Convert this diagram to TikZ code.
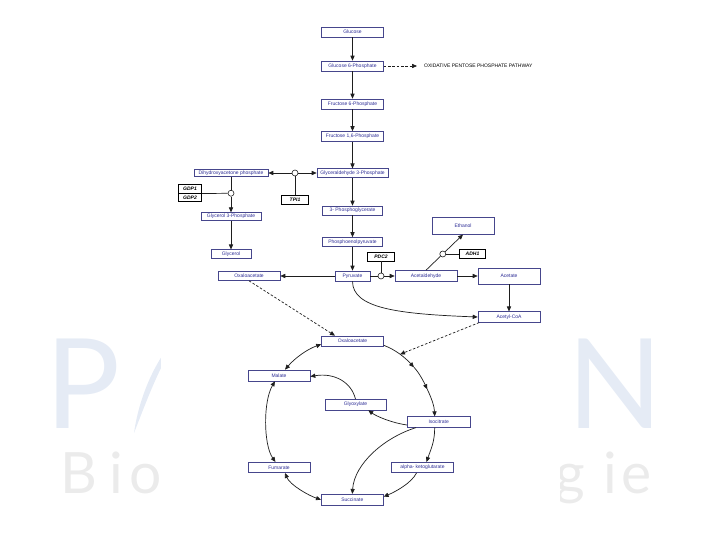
\documentclass[tikz,border=0pt]{standalone}
\usepackage{fontspec}
\setmainfont{Liberation Sans}
\newfontfamily\wmfont{Lato}
\usetikzlibrary{arrows.meta,calc}
\definecolor{boxc}{RGB}{70,70,140}
\definecolor{txtc}{RGB}{45,45,150}
\definecolor{wmblue}{RGB}{229,235,245}
\definecolor{wmgrey}{RGB}{235,235,235}
\definecolor{linec}{RGB}{30,30,30}
\tikzset{
  met/.style={draw=boxc, line width=0.6pt, fill=white, inner sep=0pt, text=txtc,
    font=\fontsize{5}{6}\selectfont, minimum width=62pt, minimum height=10pt},
  enz/.style={draw=black, line width=0.6pt, fill=white, inner sep=0pt, text=black,
    font=\fontsize{5}{6}\selectfont\bfseries\itshape, minimum width=26.5pt, minimum height=8.5pt},
  junc/.style={circle, draw=linec, fill=white, line width=0.6pt, inner sep=0pt, minimum size=6pt},
  conn/.style={draw=linec, line width=0.7pt},
  arr/.style={conn, -{Triangle[length=5pt,width=4.2pt]}},
  darr/.style={conn, {Triangle[length=5pt,width=4.2pt]}-{Triangle[length=5pt,width=4.2pt]}},
  dsh/.style={dash pattern=on 2.5pt off 1.8pt},
  wm/.style={inner sep=0pt, anchor=base west}
}
\begin{document}
\begin{tikzpicture}[x=1pt,y=-1pt]
\useasboundingbox (0,0) rectangle (720,540);
% watermark
\node[wm, text=wmblue, font=\wmfont\fontsize{125}{125}\selectfont] (wmP) at (45,428) {P};
\node[wm, text=wmblue, font=\wmfont\fontsize{125}{125}\selectfont] (wmN) at (567,428) {N};
\fill[wmblue] (162,356) .. controls (148,378) and (138,405) .. (134,433) .. controls (143,410) and (152,386) .. (162,366) -- cycle;
\node[wm, text=wmgrey, font=\wmfont\fontsize{57}{57}\selectfont] (wmB) at (60,493) {B};
\node[wm, text=wmgrey, font=\wmfont\fontsize{57}{57}\selectfont] (wmi) at (109,493) {i};
\node[wm, text=wmgrey, font=\wmfont\fontsize{57}{57}\selectfont] (wmo) at (129,493) {o};
\node[wm, text=wmgrey, font=\wmfont\fontsize{57}{57}\selectfont] (wmg) at (555,493) {g};
\node[wm, text=wmgrey, font=\wmfont\fontsize{57}{57}\selectfont] (wmi2) at (603,493) {i};
\node[wm, text=wmgrey, font=\wmfont\fontsize{57}{57}\selectfont] (wme) at (621,493) {e};
\fill[white] (161,0) rectangle (560,540);

% glycolysis
\node[met] (glc) at (352.5,32) {Glucose};
\node[met] (g6p) at (352.5,66) {Glucose 6-Phosphate};
\node[met] (f6p) at (352.5,104) {Fructose 6-Phosphate};
\node[met] (f16p) at (352.5,136.5) {Fructose 1,6-Phosphate};
\node[met, minimum width=71pt, minimum height=8.5pt] (ga3p) at (352.5,173) {Glyceraldehyde 3-Phosphate};
\node[met, minimum width=60pt, minimum height=9pt] (pg3) at (352.5,210.5) {3- Phosphoglycerate};
\node[met, minimum width=60pt, minimum height=9pt] (pep) at (352.5,242) {Phosphoenolpyruvate};
\node[met, minimum width=35pt] (pyr) at (352.5,276) {Pyruvate};
\node[inner xsep=7pt, inner ysep=0pt, anchor=west, text=black, font=\fontsize{5}{6}\selectfont] (ppp) at (417,66) {OXIDATIVE PENTOSE PHOSPHATE PATHWAY};

\node[enz] (pdc2) at (381,256.7) {PDC2};
\node[junc] (c1) at (381,276) {};
\node[met, minimum height=11pt] (acald) at (426,276) {Acetaldehyde};
\node[met, minimum height=17pt] (etoh) at (463,225.7) {Ethanol};
\node[enz] (adh1) at (472.5,254) {ADH1};
\node[junc] (c2) at (442.8,254) {};
\node[met, minimum height=16pt] (acet) at (509,276) {Acetate};
\node[met, minimum height=10.5pt] (acoa) at (509,317) {Acetyl-CoA};
\node[met, minimum height=9pt] (oaa1) at (249,276) {Oxaloacetate};

\node[met, minimum width=74pt, minimum height=7.5pt] (dhap) at (231,173) {Dihydroxyacetone phosphate};
\node[junc] (c3) at (295,173) {};
\node[enz] (tpi1) at (295,200) {TPI1};
\node[enz, minimum width=23.5pt] (gdp1) at (190,189) {GDP1};
\node[enz, minimum width=23.5pt] (gdp2) at (190,197.5) {GDP2};
\node[junc] (c4) at (231,193.25) {};
\node[met, minimum width=60pt, minimum height=8pt] (g3p) at (231,216.7) {Glycerol 3-Phosphate};
\node[met, minimum width=40pt, minimum height=8.5pt] (gly) at (231,254) {Glycerol};

% TCA / glyoxylate cycle
\node[met] (oaa2) at (352.5,341) {Oxaloacetate};
\node[met, minimum height=11pt] (mal) at (279,375.5) {Malate};
\node[met, minimum width=61pt, minimum height=10.5pt] (glx) at (355.5,404.7) {Glyoxylate};
\node[met, minimum width=62.7pt, minimum height=10.6pt] (ict) at (438.7,422) {Isocitrate};
\node[met, minimum height=10.4pt] (fum) at (279,467.5) {Fumarate};
\node[met, minimum height=10.4pt] (akg) at (422.5,467.5) {alpha- ketoglutarate};
\node[met, minimum height=11pt] (suc) at (352.3,499.7) {Succinate};

% connectors: main chain
\draw[arr] (glc) -- (g6p);
\draw[arr] (g6p) -- (f6p);
\draw[arr] (f6p) -- (f16p);
\draw[arr] (f16p) -- (ga3p);
\draw[arr] (ga3p) -- (pg3);
\draw[arr] (pg3) -- (pep);
\draw[arr] (pep) -- (pyr);
\draw[arr, dsh] (g6p.east) -- (ppp.west);

% TPI and glycerol branch
\draw[arr] (c3) -- (dhap.east);
\draw[arr] (c3) -- (ga3p.west);
\draw[conn] (tpi1.north) -- (c3);
\draw[conn] (dhap.south) -- (c4);
\draw[arr] (c4) -- (g3p.north);
\draw[conn] (gdp1.south east) -- (c4);
\draw[arr] (g3p) -- (gly);

% pyruvate branches
\draw[arr] (pyr) -- (oaa1);
\draw[conn] (pyr) -- (c1);
\draw[arr] (c1) -- (acald);
\draw[conn] (pdc2) -- (c1);
\draw[conn] (acald.north) -- (c2);
\draw[arr] (c2) -- (etoh.south);
\draw[conn] (c2) -- (adh1);
\draw[arr] (acald) -- (acet);
\draw[arr] (acet) -- (acoa);
\draw[arr] (pyr.south) .. controls +(0,27) and +(-80,-3) .. (acoa.west);

% dashed links into the cycle
\coordinate (cit) at (400,354.3);
\coordinate (cy1) at (414,367.3);
\coordinate (cy2) at (427.3,389.3);
\draw[arr, dsh] (oaa1.south) -- ($(oaa2.north)+(-17.5,0)$);
\draw[arr, dsh] ($(acoa.south west)+(1.5,0)$) -- (cit);

% cycle
\draw[arr] ($(oaa2.south east)+(0,-1)$) .. controls +(12.3,4.7) and +(-8.7,-9.5) .. (cy1);
\draw[arr] (cy1) .. controls +(5.5,6) and +(-3.4,-7.2) .. (cy2);
\draw[arr] (cy2) .. controls +(4.4,9.4) and +(-0.4,-10.2) .. ($(ict.north)+(-4,0)$);
\draw[darr] ($(oaa2.south west)+(0,-2)$) .. controls +(-14.3,5) and +(9.6,-11.3) .. ($(mal.north)+(6,0)$);
\draw[darr] ($(mal.south)+(-4,0)$) .. controls +(-12,20) and +(-12,-17) .. ($(fum.north)+(-3.5,0)$);
\draw[darr] ($(fum.south)+(6,0)$) .. controls +(5,12) and +(-12,-4) .. (suc.west);
\draw[arr] (glx.north) .. controls +(-4,-17) and +(24,-4) .. ($(mal.east)+(0,1)$);
\draw[arr] ($(ict.west)+(0,3)$) .. controls +(-15,-2) and +(8,6) .. ($(glx.south east)+(-18,0)$);
\draw[arr] ($(ict.south west)+(9,0)$) .. controls +(-32,10) and +(2,-30) .. (suc.north);
\draw[arr] ($(ict.south)+(-4,0)$) .. controls +(0,15) and +(4,-12) .. ($(akg.north)+(4,0)$);
\draw[arr] ($(akg.south)+(-6,0)$) .. controls +(-5,10) and +(12,-5) .. ($(suc.east)+(0,-3)$);
\end{tikzpicture}
\end{document}
